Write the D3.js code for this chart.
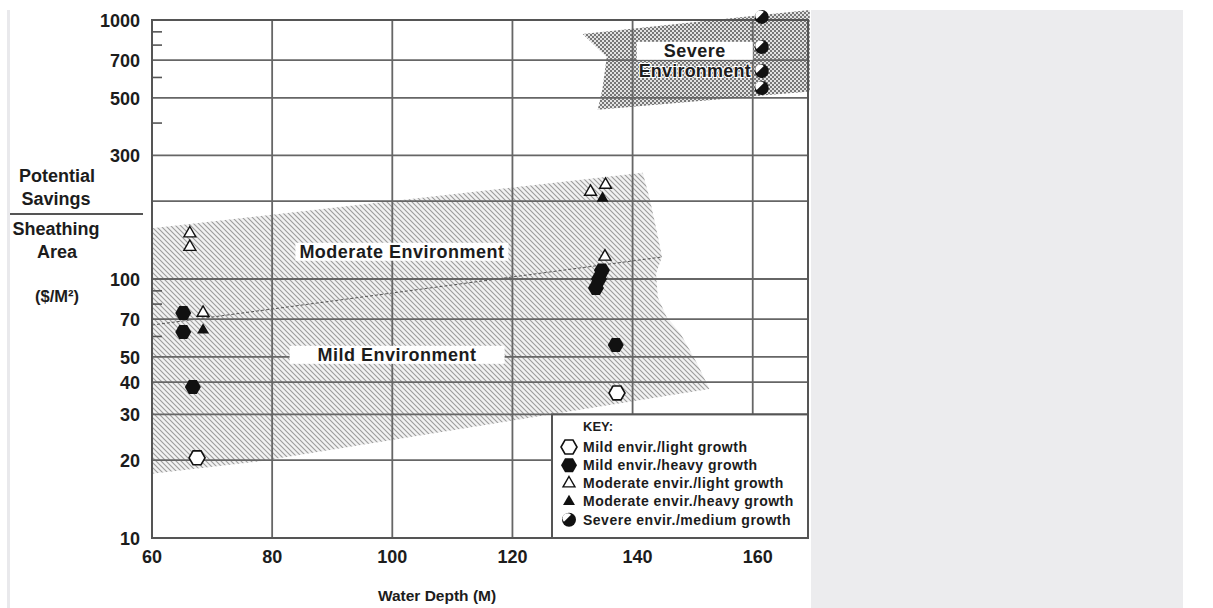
<!DOCTYPE html>
<html lang="en">
<head>
<meta charset="UTF-8">
<title>Potential Savings vs Water Depth</title>
<script src="https://d3js.org/d3.v7.min.js"></script>
<style>
    body { margin: 0; background: #fff; font-family: "Liberation Sans", Arial, sans-serif; }
    svg text { font-weight: bold; fill: #1c1c1c; }
    .grid line { stroke: #666; stroke-width: 1.8; }
    .minor line { stroke: #555; stroke-width: 1.6; }
</style>
</head>
<body>
<div id="chart"></div>
<script>
// axis values
const xTicks = [60, 80, 100, 120, 140, 160];
const yGrid = [20, 30, 40, 50, 70, 100, 200, 300, 500, 700];
const yTickLabels = [10, 20, 30, 40, 50, 70, 100, 300, 500, 700, 1000];
const yMinor = [60, 80, 90, 400, 600, 800, 900];

// data points [water depth, $/m2]
const mildLight = [[67.5, 20.4], [137.4, 36.3]];
const mildHeavy = [[65.2, 73.9], [65.2, 62.4], [66.8, 38.3], [134.9, 108], [134.4, 100], [133.9, 92.3], [137.2, 55.6]];
const moderateLight = [[66.3, 150], [66.3, 133], [68.5, 74], [133.0, 217], [135.5, 231], [135.4, 122]];
const moderateHeavy = [[68.5, 63.5], [135.0, 205]];
const severeMedium = [[161.5, 1028], [161.5, 787], [161.5, 635], [161.5, 546]];

// shaded environment bands
const hatchBand = [[60, 157], [141.7, 257], [142.9, 202], [144.0, 154], [144.9, 122], [143.9, 105],
    [144.2, 85], [145.7, 71], [147.9, 62], [150.7, 47.4], [152.8, 37.6], [78.0, 19.8], [60, 17.7]];
const moderateMildBorder = [[60, 66.4], [144.9, 121.6]];
const severeBand = [[131.7, 883], [169.5, 1094], [169.5, 530], [134.2, 450], [135.0, 545], [135.7, 719]];

const legendItems = ["Mild envir./light growth", "Mild envir./heavy growth", "Moderate envir./light growth",
    "Moderate envir./heavy growth", "Severe envir./medium growth"];

const W = 1213, H = 608;
const svg = d3.select("#chart").append("svg").attr("width", W).attr("height", H);

// page frame
svg.append("rect").attr("x", 7).attr("y", 10).attr("width", 3).attr("height", H - 10).attr("fill", "#e9e9ec");
svg.append("rect").attr("x", 811).attr("y", 10).attr("width", 372).attr("height", H - 10).attr("fill", "#ececee");

const x = d3.scaleLinear().domain([60, 169.2]).range([152, 808]);
const y = d3.scaleLog().domain([10, 1000]).range([538, 20]);
const plotLeft = x.range()[0], plotRight = x.range()[1], plotTop = y(1000), plotBottom = y(10);

const defs = svg.append("defs");
const hatch = defs.append("pattern").attr("id", "hatch").attr("patternUnits", "userSpaceOnUse")
    .attr("width", 5).attr("height", 5);
hatch.append("rect").attr("width", 5).attr("height", 5).attr("fill", "#f2f2f2");
hatch.append("path").attr("d", "M0,0 l5,5 M-1,4 l2,2 M4,-1 l2,2").attr("stroke", "#9c9c9c").attr("stroke-width", 1.1);

const dots = defs.append("pattern").attr("id", "dots").attr("patternUnits", "userSpaceOnUse")
    .attr("width", 4).attr("height", 4);
dots.append("rect").attr("width", 4).attr("height", 4).attr("fill", "#e2e2e2");
dots.append("rect").attr("width", 2).attr("height", 2).attr("fill", "#777");
dots.append("rect").attr("x", 2).attr("y", 2).attr("width", 2).attr("height", 2).attr("fill", "#777");

const poly = d3.line().x(d => x(d[0])).y(d => y(d[1])).curve(d3.curveLinearClosed);
const line = d3.line().x(d => x(d[0])).y(d => y(d[1]));

svg.append("path").attr("d", poly(hatchBand)).attr("fill", "url(#hatch)");
svg.append("path").attr("d", poly(severeBand)).attr("fill", "url(#dots)");
svg.append("path").attr("d", line(moderateMildBorder)).attr("fill", "none")
    .attr("stroke", "#555").attr("stroke-width", 1).attr("stroke-dasharray", "3,2");

// legend box position
const legLeft = 552, legTop = y(30);

// grid
const grid = svg.append("g").attr("class", "grid");
grid.selectAll(".h").data(yGrid).join("line")
    .attr("x1", plotLeft).attr("x2", d => d < 30 ? legLeft : plotRight)
    .attr("y1", d => y(d)).attr("y2", d => y(d));
grid.selectAll(".v").data(xTicks.slice(1)).join("line")
    .attr("x1", d => x(d)).attr("x2", d => x(d))
    .attr("y1", plotTop).attr("y2", d => x(d) > legLeft ? legTop : plotBottom);
grid.append("rect").attr("x", plotLeft).attr("y", plotTop).attr("width", plotRight - plotLeft)
    .attr("height", plotBottom - plotTop)
    .attr("fill", "none").attr("stroke", "#555").attr("stroke-width", 2);

svg.append("g").attr("class", "minor").selectAll("line").data(yMinor).join("line")
    .attr("x1", plotLeft).attr("x2", plotLeft + 10).attr("y1", d => y(d)).attr("y2", d => y(d));

// axis labels
svg.append("g").selectAll("text").data(yTickLabels).join("text")
    .attr("x", 140).attr("y", d => y(d) + 2).attr("text-anchor", "end")
    .attr("dominant-baseline", "middle").style("font-size", "18px").text(d => d);
svg.append("g").selectAll("text").data(xTicks).join("text")
    .attr("x", d => x(d) + (d >= 140 ? 5 : 0)).attr("y", 558).attr("text-anchor", "middle")
    .attr("dominant-baseline", "middle").style("font-size", "18px").text(d => d);
svg.append("text").attr("x", 437).attr("y", 597).attr("text-anchor", "middle")
    .attr("dominant-baseline", "middle").style("font-size", "15.5px").text("Water Depth (M)");

const ytitle = svg.append("g").style("font-size", "18px").attr("text-anchor", "middle");
ytitle.append("text").attr("x", 57).attr("y", 177).attr("dominant-baseline", "middle").text("Potential");
ytitle.append("text").attr("x", 56).attr("y", 200).attr("dominant-baseline", "middle").text("Savings");
ytitle.append("line").attr("x1", 10).attr("x2", 143).attr("y1", 214).attr("y2", 214)
    .attr("stroke", "#555").attr("stroke-width", 2);
ytitle.append("text").attr("x", 56).attr("y", 230).attr("dominant-baseline", "middle").text("Sheathing");
ytitle.append("text").attr("x", 57).attr("y", 253).attr("dominant-baseline", "middle").text("Area");
ytitle.append("text").attr("x", 57).attr("y", 298).attr("dominant-baseline", "middle")
    .style("font-size", "16.5px").text("($/M²)");

// band labels
function boxLabel(txt, cx, cy, padX, size) {
    const t = svg.append("text").attr("x", x(cx)).attr("y", y(cy)).attr("text-anchor", "middle")
        .attr("dominant-baseline", "middle").style("font-size", size + "px").style("letter-spacing", "0.5px").text(txt);
    const bb = t.node().getBBox();
    svg.insert("rect", () => t.node()).attr("x", bb.x - padX).attr("y", bb.y + 1)
        .attr("width", bb.width + 2 * padX).attr("height", bb.height - 2).attr("fill", "#fff");
}
boxLabel("Moderate Environment", 101.6, 126, 4, 18);
boxLabel("Mild Environment", 100.8, 50.4, 28, 18);
boxLabel("Severe", 150.35, 752, 27, 18);
svg.append("text").attr("x", x(150.35)).attr("y", y(630)).attr("text-anchor", "middle")
    .attr("dominant-baseline", "middle").style("font-size", "18px").style("letter-spacing", "0.2px")
    .attr("stroke", "#fff").attr("stroke-width", 2).attr("paint-order", "stroke").text("Environment");

// markers
const hex = r => d3.line().curve(d3.curveLinearClosed)(d3.range(6).map(i =>
    [r * Math.cos(i * Math.PI / 3), r * Math.sin(i * Math.PI / 3)]));
const tri = d3.symbol(d3.symbolTriangle).size(62)();
const halfArc = d3.arc().innerRadius(0).outerRadius(5).startAngle(-3 * Math.PI / 4).endAngle(Math.PI / 4)();

function drawMarker(g, kind) {
    if (kind === 0) g.append("path").attr("d", hex(8)).attr("fill", "#fff").attr("stroke", "#111").attr("stroke-width", 1.6);
    if (kind === 1) g.append("path").attr("d", hex(8)).attr("fill", "#111");
    if (kind === 2) g.append("path").attr("d", tri).attr("fill", "#fff").attr("stroke", "#111").attr("stroke-width", 1.4);
    if (kind === 3) g.append("path").attr("d", tri).attr("fill", "#111");
    if (kind === 4) {
        g.append("circle").attr("r", 7).attr("fill", "#111");
        g.append("path").attr("d", halfArc).attr("fill", "#fff").attr("transform", "translate(-1.5,-1.5)");
    }
}
const seriesList = [mildLight, mildHeavy, moderateLight, moderateHeavy, severeMedium];
seriesList.forEach((data, k) => {
    data.forEach(d => {
        const g = svg.append("g").attr("transform", `translate(${x(d[0])},${y(d[1])})`);
        drawMarker(g, k);
    });
});

// legend
const leg = svg.append("g");
leg.append("rect").attr("x", legLeft).attr("y", legTop).attr("width", plotRight - legLeft)
    .attr("height", plotBottom - legTop)
    .attr("fill", "#fff").attr("stroke", "#555").attr("stroke-width", 2);
leg.append("text").attr("x", 583).attr("y", 428).attr("dominant-baseline", "middle")
    .style("font-size", "13px").text("KEY:");
legendItems.forEach((txt, i) => {
    const cy = 447 + i * 18.2;
    const g = leg.append("g").attr("transform", `translate(569,${cy})`);
    drawMarker(g, i);
    leg.append("text").attr("x", 583).attr("y", cy + 1).attr("dominant-baseline", "middle")
        .style("font-size", "14px").style("letter-spacing", "0.5px").text(txt);
});
</script>
</body>
</html>
